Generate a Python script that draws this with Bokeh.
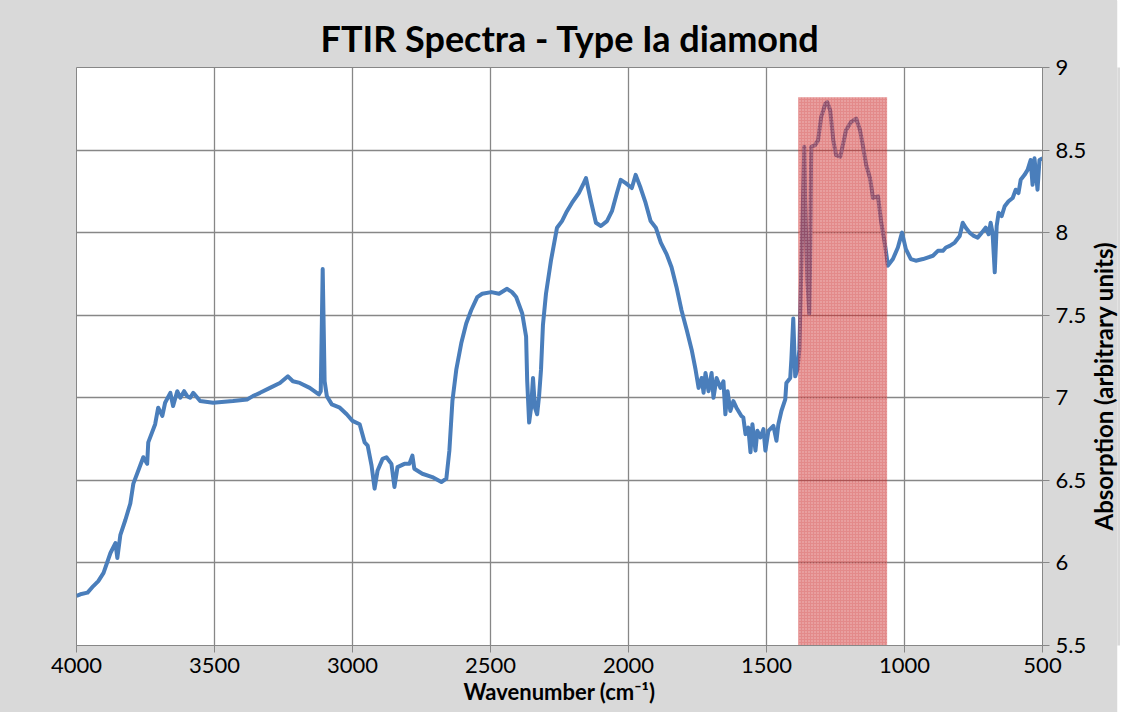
from bokeh.plotting import figure
from bokeh.layouts import row
from bokeh.models import Range1d, FixedTicker, Title
from bokeh.embed import file_html
from bokeh.resources import INLINE

# ---- data ----
wavenumber = [4000, 3986, 3960, 3939, 3921, 3902, 3877, 3859, 3852, 3841, 3823, 3805, 3794, 3776, 3758,
              3744, 3740, 3715, 3704, 3689, 3679, 3660, 3650, 3635, 3624, 3610, 3599, 3588, 3577, 3552,
              3505, 3433, 3382, 3361, 3335, 3299, 3263, 3234, 3216, 3191, 3155, 3122, 3115, 3108, 3101,
              3093, 3075, 3046, 3021, 3000, 2974, 2956, 2945, 2931, 2920, 2909, 2891, 2877, 2859, 2848,
              2837, 2812, 2794, 2783, 2776, 2747, 2711, 2678, 2660, 2649, 2638, 2624, 2606, 2588, 2570,
              2548, 2530, 2497, 2469, 2440, 2422, 2407, 2396, 2385, 2371, 2367, 2360, 2353, 2346, 2339,
              2331, 2324, 2317, 2310, 2299, 2281, 2259, 2241, 2223, 2205, 2180, 2165, 2154, 2136, 2118,
              2100, 2078, 2060, 2042, 2028, 2010, 1988, 1974, 1956, 1938, 1920, 1901, 1883, 1862, 1844,
              1826, 1808, 1789, 1771, 1757, 1746, 1735, 1728, 1721, 1710, 1699, 1692, 1681, 1667, 1656,
              1649, 1641, 1631, 1620, 1609, 1591, 1584, 1576, 1566, 1558, 1551, 1540, 1533, 1522, 1511,
              1504, 1493, 1475, 1464, 1457, 1446, 1432, 1428, 1414, 1410, 1403, 1396, 1388, 1381, 1374,
              1367, 1363, 1360, 1352, 1345, 1342, 1338, 1324, 1313, 1302, 1287, 1280, 1269, 1258, 1248,
              1233, 1222, 1212, 1194, 1175, 1161, 1150, 1139, 1125, 1114, 1096, 1085, 1071, 1060, 1042,
              1024, 1009, 995, 977, 959, 933, 897, 879, 861, 850, 836, 818, 800, 789, 778,
              764, 749, 735, 720, 706, 695, 688, 681, 673, 666, 659, 648, 637, 623, 608,
              597, 587, 579, 565, 554, 543, 536, 529, 518, 511, 500]
absorption = [5.80, 5.81, 5.82, 5.86, 5.89, 5.94, 6.06, 6.12, 6.03, 6.17, 6.26, 6.36, 6.48, 6.56, 6.64,
              6.60, 6.73, 6.84, 6.94, 6.89, 6.97, 7.03, 6.95, 7.04, 7.00, 7.04, 7.01, 7.00, 7.03, 6.98,
              6.97, 6.98, 6.99, 7.01, 7.03, 7.06, 7.09, 7.13, 7.10, 7.09, 7.06, 7.02, 7.04, 7.78, 7.10,
              7.01, 6.96, 6.94, 6.90, 6.86, 6.84, 6.73, 6.71, 6.59, 6.45, 6.56, 6.63, 6.64, 6.60, 6.46,
              6.58, 6.60, 6.60, 6.65, 6.57, 6.54, 6.52, 6.49, 6.51, 6.68, 6.98, 7.17, 7.33, 7.45, 7.53,
              7.61, 7.63, 7.64, 7.63, 7.66, 7.64, 7.61, 7.56, 7.51, 7.37, 7.10, 6.85, 6.94, 7.12, 6.94,
              6.90, 7.01, 7.17, 7.44, 7.63, 7.83, 8.03, 8.07, 8.13, 8.18, 8.24, 8.29, 8.33, 8.19, 8.06,
              8.04, 8.07, 8.13, 8.24, 8.32, 8.30, 8.27, 8.35, 8.27, 8.18, 8.07, 8.03, 7.94, 7.87, 7.79,
              7.67, 7.53, 7.41, 7.29, 7.17, 7.06, 7.12, 7.03, 7.15, 7.04, 7.15, 7.00, 7.12, 7.06, 7.10,
              6.90, 7.04, 6.92, 6.98, 6.94, 6.89, 6.88, 6.78, 6.82, 6.67, 6.84, 6.68, 6.80, 6.76, 6.81,
              6.68, 6.80, 6.83, 6.74, 6.84, 6.92, 6.99, 7.09, 7.12, 7.23, 7.48, 7.13, 7.17, 7.29, 7.77,
              8.26, 8.52, 8.19, 7.71, 7.51, 7.83, 8.52, 8.53, 8.56, 8.70, 8.78, 8.79, 8.74, 8.56, 8.47,
              8.46, 8.54, 8.62, 8.67, 8.69, 8.62, 8.52, 8.41, 8.33, 8.21, 8.22, 8.07, 7.93, 7.80, 7.84,
              7.91, 8.00, 7.90, 7.84, 7.83, 7.84, 7.86, 7.89, 7.89, 7.91, 7.92, 7.94, 7.98, 8.06, 8.03,
              8.00, 7.98, 7.97, 8.00, 8.03, 7.99, 8.06, 8.00, 7.76, 8.04, 8.12, 8.10, 8.16, 8.19, 8.21,
              8.26, 8.24, 8.32, 8.35, 8.38, 8.44, 8.29, 8.45, 8.26, 8.44, 8.45]

# highlighted band (wavenumber range, absorption top)
band_left = [1385]
band_right = [1063]
band_bottom = [5.5]
band_top = [8.82]

x_ticks = [4000, 3500, 3000, 2500, 2000, 1500, 1000, 500]
y_ticks = [5.5, 6, 6.5, 7, 7.5, 8, 8.5, 9]
y_tick_labels = ["5.5", "6", "6.5", "7", "7.5", "8", "8.5", "9"]

title_text = "FTIR Spectra - Type Ia diamond"
x_label_text = "Wavenumber (cm\u207b\u00b9)"
y_label_text = "Absorption (arbitrary units)"

FONT = "Lato"
GRID = "#878787"
BG = "#d9d9d9"

p = figure(width=1089, height=712, output_backend="svg", toolbar_location=None,
           x_range=Range1d(4000, 500), y_range=Range1d(5.5, 9),
           y_axis_location="right", title=title_text,
           min_border_left=76, min_border_right=44, min_border_top=67, min_border_bottom=67)
p.border_fill_color = BG
p.background_fill_color = "white"
p.outline_line_color = GRID

p.title.text_font = FONT
p.title.text_font_style = "bold"
p.title.text_font_size = "36px"
p.title.text_color = "black"
p.title.align = "left"
p.title.offset = 244
p.title.standoff = 15

for ax in (p.xaxis[0], p.yaxis[0]):
    ax.axis_line_color = GRID
    ax.major_tick_line_color = GRID
    ax.major_tick_out = 7
    ax.major_tick_in = 0
    ax.minor_tick_line_color = None
    ax.major_label_text_font = FONT
    ax.major_label_text_font_size = "22px"
    ax.major_label_text_color = "black"
    ax.axis_label_text_font = FONT
    ax.axis_label_text_font_style = "bold"
    ax.axis_label_text_font_size = "22px"
    ax.axis_label_text_color = "black"

p.xaxis[0].ticker = FixedTicker(ticks=x_ticks)
p.yaxis[0].ticker = FixedTicker(ticks=y_ticks)
p.yaxis[0].major_label_overrides = {t: s for t, s in zip(y_ticks, y_tick_labels)}
p.xaxis[0].major_label_standoff = 5
p.yaxis[0].major_label_standoff = 6
p.xaxis[0].axis_label = x_label_text
p.xaxis[0].axis_label_standoff = 2

p.xgrid.ticker = FixedTicker(ticks=x_ticks)
p.ygrid.ticker = FixedTicker(ticks=y_ticks)
p.grid.grid_line_color = GRID
p.grid.grid_line_width = 1.3

p.line(wavenumber, absorption, line_color="#4a7ebb", line_width=4, line_join="round")

p.quad(left=band_left, right=band_right, bottom=band_bottom, top=band_top,
       fill_color="#cc2a2a", fill_alpha=0.55, line_color=None,
       hatch_pattern="dot", hatch_color="white", hatch_alpha=0.45, hatch_scale=3)

# narrow strip on the right that carries the y title, reading bottom-to-top
side = figure(width=28, height=712, output_backend="svg", toolbar_location=None,
              x_axis_location=None, y_axis_location=None,
              min_border_left=0, min_border_right=0, min_border_top=67, min_border_bottom=67)
side.border_fill_color = BG
side.background_fill_color = BG
side.outline_line_color = None
side.grid.visible = False
side.add_layout(Title(text=y_label_text, align="left", offset=115, text_font=FONT,
                      text_font_style="bold", text_font_size="24px", text_color="black",
                      standoff=0), "left")

layout = row(p, side, spacing=0, styles={"background-color": BG})
open("out.html", "w").write(file_html(layout, INLINE))
